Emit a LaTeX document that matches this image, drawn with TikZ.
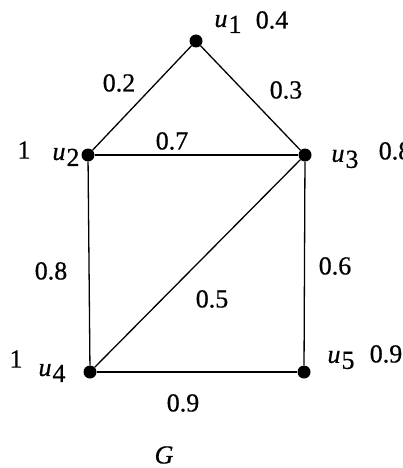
\documentclass[tikz,border=0pt]{standalone}
\usepackage{fontspec}
\setmainfont{Liberation Serif}[FakeBold=0.6]
\newcommand{\vlab}[1]{{\itshape u}\hspace{1pt}\raisebox{-6pt}{#1}}
\begin{document}
\begin{tikzpicture}[x=1pt,y=-1pt,
  vtx/.style={circle,fill=black,inner sep=0pt,minimum size=13pt},
  lbl/.style={font=\fontsize{26}{28}\selectfont,inner sep=0pt},
  edge/.style={line width=1.3pt}]
\useasboundingbox (0,0) rectangle (402,468);
\node[vtx] (u1) at (196,41) {};
\node[vtx] (u2) at (88,155) {};
\node[vtx] (u3) at (305,155) {};
\node[vtx] (u4) at (90,372) {};
\node[vtx] (u5) at (304,372) {};
\draw[edge] (u1) -- (u2);
\draw[edge] (u1) -- (u3);
\draw[edge] (u2) -- (u3);
\draw[edge] (u2) -- (u4);
\draw[edge] (u3) -- (u4);
\draw[edge] (u3) -- (u5);
\draw[edge] (u4) -- (u5);
\node[lbl] (n1) at (228,24) {\vlab{1}};
\node[lbl] (w1) at (272,20) {0.4};
\node[lbl] (n2) at (66,157) {\vlab{2}};
\node[lbl] (w2) at (24,150) {1};
\node[lbl] (n3) at (345,159) {\vlab{3}};
\node[lbl] (w3) at (395,151) {0.8};
\node[lbl] (n4) at (52,373) {\vlab{4}};
\node[lbl] (w4) at (16,359) {1};
\node[lbl] (n5) at (341,360) {\vlab{5}};
\node[lbl] (w5) at (386,354) {0.9};
\node[lbl] (e12) at (119,83) {0.2};
\node[lbl] (e13) at (286,90) {0.3};
\node[lbl] (e23) at (172,141) {0.7};
\node[lbl] (e24) at (51,271) {0.8};
\node[lbl] (e35) at (335,266) {0.6};
\node[lbl] (e34) at (212,299) {0.5};
\node[lbl] (e45) at (183,403) {0.9};
\node[lbl] (g) at (164,455) {\itshape G};
\end{tikzpicture}
\end{document}
